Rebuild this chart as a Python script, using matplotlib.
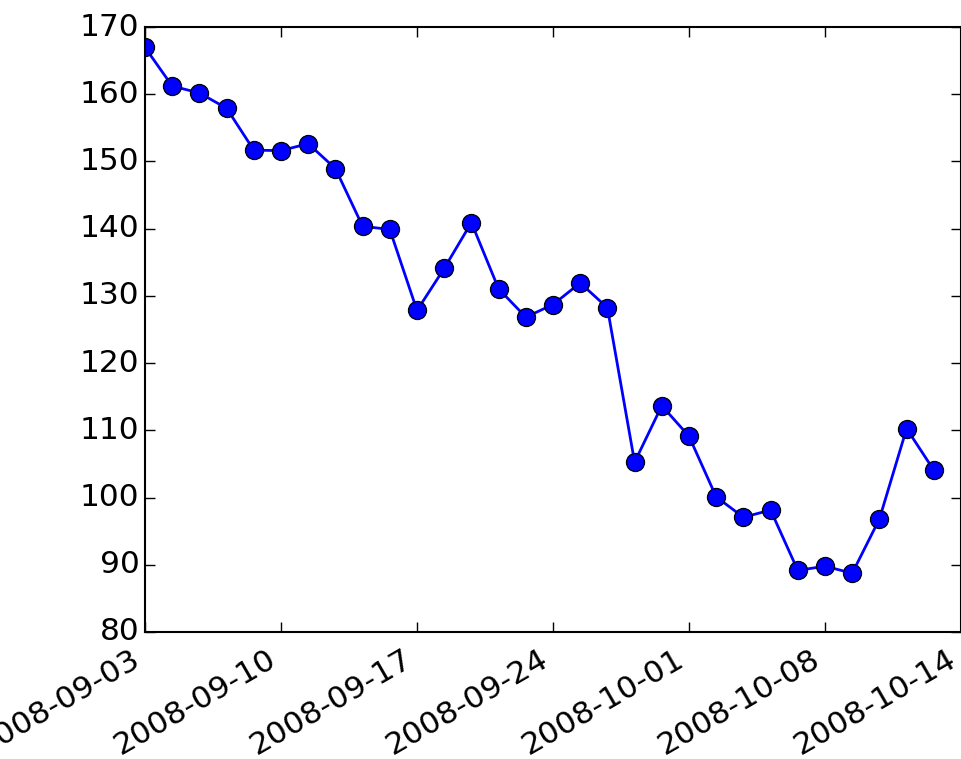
import numpy as np
import matplotlib
matplotlib.use("Agg")
import matplotlib.pyplot as plt
import matplotlib.ticker as ticker

plt.style.use("classic")

dates = ["2008-09-03", "2008-09-04", "2008-09-05", "2008-09-08", "2008-09-09",
         "2008-09-10", "2008-09-11", "2008-09-12", "2008-09-15", "2008-09-16",
         "2008-09-17", "2008-09-18", "2008-09-19", "2008-09-22", "2008-09-23",
         "2008-09-24", "2008-09-25", "2008-09-26", "2008-09-29", "2008-09-30",
         "2008-10-01", "2008-10-02", "2008-10-03", "2008-10-06", "2008-10-07",
         "2008-10-08", "2008-10-09", "2008-10-10", "2008-10-13", "2008-10-14"]
adj_close = [166.96, 161.22, 160.18, 157.92, 151.68, 151.61, 152.65, 148.94, 140.36, 139.88,
             127.83, 134.09, 140.91, 131.05, 126.84, 128.71, 131.93, 128.24, 105.26, 113.66,
             109.12, 100.10, 97.07, 98.14, 89.16, 89.79, 88.74, 96.80, 110.26, 104.08]

N = len(dates)
ind = np.arange(N)


def format_date(x, pos=None):
    i = int(np.clip(int(x + 0.5), 0, N - 1))
    return dates[i]


fig = plt.figure(figsize=(9.62, 7.59), dpi=100, facecolor="white")
ax = fig.add_axes([145/962, 1 - 632/759, 816/962, 605/759])
ax.plot(ind, adj_close, "o-", color="b", lw=2, markersize=13,
        markeredgecolor="black", markeredgewidth=0.9)
ax.set_xlim(0, 30)
ax.set_ylim(80, 170)
ax.xaxis.set_major_formatter(ticker.FuncFormatter(format_date))
ax.xaxis.set_major_locator(ticker.MultipleLocator(5))
for s in ax.spines.values():
    s.set_linewidth(1.5)
ax.tick_params(labelsize=22.5, length=7, width=1, direction="in")
ax.tick_params(axis="x", pad=9)
for lbl in ax.get_xticklabels():
    lbl.set_rotation(30)
    lbl.set_ha("right")

fig.savefig("out.png", dpi=100, facecolor="white")
